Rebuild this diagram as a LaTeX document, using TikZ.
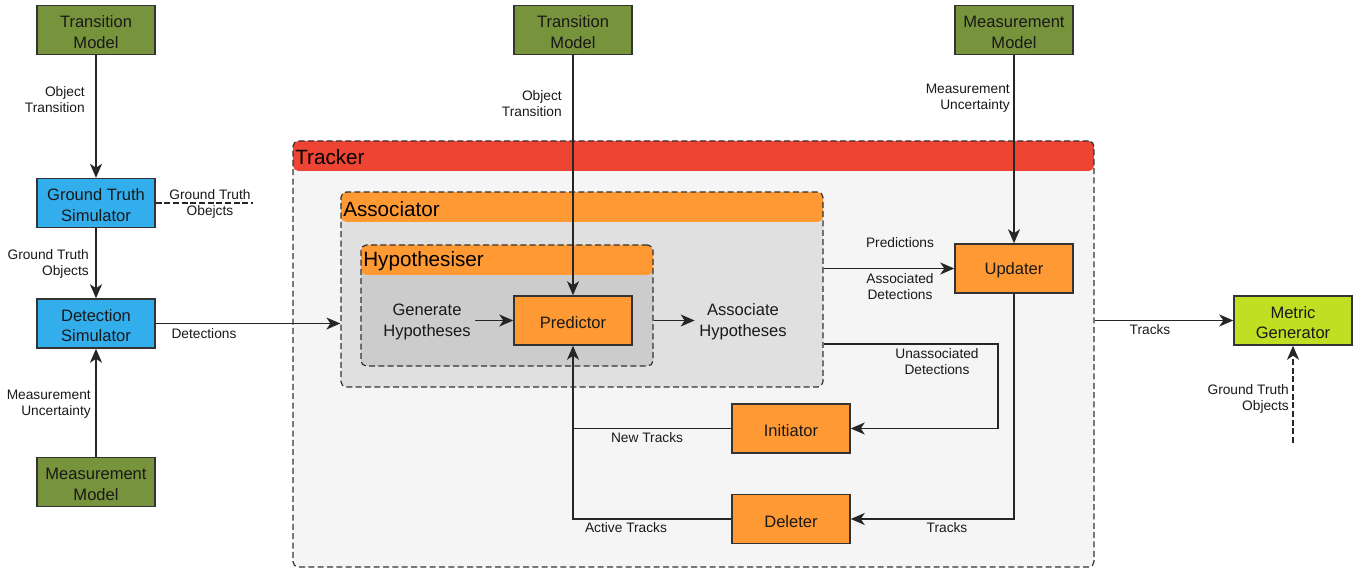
\documentclass[tikz,border=0pt]{standalone}
\usepackage{fontspec}
\setmainfont{Liberation Sans}
\usetikzlibrary{arrows.meta,calc}

\definecolor{modelgreen}{RGB}{119,147,60}
\definecolor{simblue}{RGB}{51,174,236}
\definecolor{comporange}{RGB}{255,153,51}
\definecolor{trackred}{RGB}{238,68,52}
\definecolor{trackbody}{RGB}{245,245,245}
\definecolor{assocbody}{RGB}{224,224,224}
\definecolor{hypbody}{RGB}{204,204,204}
\definecolor{metriclime}{RGB}{192,222,34}
\definecolor{edgegrey}{RGB}{51,51,51}

\newcommand{\tstrut}{\rule{0pt}{12.3pt}}

\tikzset{
  box/.style={draw=edgegrey, line width=1.1pt, minimum width=88.5pt, minimum height=36.75pt,
    inner sep=0pt, align=center, text=black!90, font=\fontsize{12.4}{15.5}\selectfont},
  modelbox/.style={box, fill=modelgreen},
  simbox/.style={box, fill=simblue},
  compbox/.style={box, fill=comporange},
  metricbox/.style={box, fill=metriclime},
  container/.style n args={4}{draw=edgegrey, line width=0.9pt, dash pattern=on 4.5pt off 2.5pt,
    rounded corners=4pt, fill=#2, minimum width=#3*0.75pt, minimum height=#4*0.75pt, inner sep=0pt,
    path picture={\fill[#1] (path picture bounding box.north west) rectangle ([yshift=-22.5pt]path picture bounding box.north east);}},
  headertext/.style={anchor=west, inner sep=0pt, text=black, font=\fontsize{15.5}{18}\selectfont},
  lbl/.style={inner sep=0pt, text=black!90, font=\fontsize{10.3}{12}\selectfont},
  midtext/.style={align=center, text=black!90, font=\fontsize{12.4}{15.5}\selectfont},
  arr/.style={draw=black!85, line width=1.1pt, -{Stealth[length=10.5pt,width=9pt,inset=3pt]}},
  plainline/.style={draw=black!85, line width=1.1pt},
  dashline/.style={dash pattern=on 4.5pt off 2pt},
}

\begin{document}
\begin{tikzpicture}[x=0.75pt,y=-0.75pt]
\useasboundingbox (0,0) rectangle (1367,570);

% containers
\node[container={trackred}{trackbody}{801}{426}] (tracker) at (693.5,354) {};
\node[headertext] (trackerlbl) at (295,157) {Tracker};
\node[container={comporange}{assocbody}{482}{195}] (assoc) at (582,289.5) {};
\node[headertext] (assoclbl) at (343,209) {Associator};
\node[container={comporange}{hypbody}{292}{121}] (hyp) at (507,305.5) {};
\node[headertext] (hyplbl) at (363,261) {Hypothesiser};

% boxes
\node[modelbox] (tm1) at (96,30) {\tstrut Transition\\Model};
\node[simbox] (gts) at (96,203) {\tstrut Ground Truth\\Simulator};
\node[simbox] (ds) at (96,323.5) {\tstrut Detection\\Simulator};
\node[modelbox] (mm1) at (96,482) {\tstrut Measurement\\Model};
\node[modelbox] (tm2) at (573,30) {\tstrut Transition\\Model};
\node[modelbox] (mm2) at (1014,30) {\tstrut Measurement\\Model};
\node[compbox] (pred) at (573,320.5) {\tstrut Predictor};
\node[compbox] (upd) at (1014,268.5) {\tstrut Updater};
\node[compbox] (init) at (791,428.5) {\tstrut Initiator};
\node[compbox] (del) at (791,519) {\tstrut Deleter};
\node[metricbox] (mg) at (1293,320.5) {\tstrut Metric\\Generator};

\node[midtext] (genh) at (427,322) {Generate\\Hypotheses};
\node[midtext] (asch) at (743,322) {Associate\\Hypotheses};

% free-end coordinates
\coordinate (gtend) at (253,203);
\coordinate (unassocturn) at (998,344);
\coordinate (gtmg) at (1293,443);

% connectors
\draw[arr] (tm1) -- (gts);
\draw[arr] (gts) -- (ds);
\draw[plainline, dashline] (gts.east) -- (gtend);
\draw[arr] (ds.east) -- (ds.east -| assoc.west);
\draw[arr] (mm1) -- (ds);
\draw[arr] (tm2) -- (pred);
\draw[arr] (mm2) -- (upd);
\draw[arr] (genh.east |- pred.west) -- (pred.west);
\draw[arr] (hyp.east |- pred.east) -- (asch.west |- pred.east);
\draw[arr] (assoc.east |- upd.west) -- (upd.west);
\draw[arr] (assoc.east |- unassocturn) -- (unassocturn) |- (init.east);
\draw[arr] (upd.south) |- (del.east);
\draw[arr] (init.west) -| (pred.south);
\draw[plainline] (del.west) -| (init.west -| pred.south);
\draw[arr] (tracker.east |- mg.west) -- (mg.west);
\draw[arr, dashline] (gtmg) -- (mg.south);

% connector labels
\node[lbl, anchor=east, align=right] (l1) at (85,100) {Object\\Transition};
\node[lbl, anchor=east, align=right] (l2) at (89,264) {Ground Truth\\Objects};
\node[lbl, align=center] (l3) at (210,204) {Ground Truth\\Obejcts};
\node[lbl] (l4) at (204,334) {Detections};
\node[lbl, anchor=east, align=right] (l5) at (91,404) {Measurement\\Uncertainty};
\node[lbl, anchor=east, align=right] (l6) at (562,104) {Object\\Transition};
\node[lbl, anchor=east, align=right] (l7) at (1010,98) {Measurement\\Uncertainty};
\node[lbl] (l8) at (900,243) {Predictions};
\node[lbl, align=center] (l9) at (900,287) {Associated\\Detections};
\node[lbl, align=center] (l10) at (937,362) {Unassociated\\Detections};
\node[lbl] (l11) at (647,438) {New Tracks};
\node[lbl] (l12) at (626,528) {Active Tracks};
\node[lbl] (l13) at (947,528) {Tracks};
\node[lbl] (l14) at (1150,330) {Tracks};
\node[lbl, anchor=east, align=right] (l15) at (1289,399) {Ground Truth\\Objects};
\end{tikzpicture}
\end{document}
